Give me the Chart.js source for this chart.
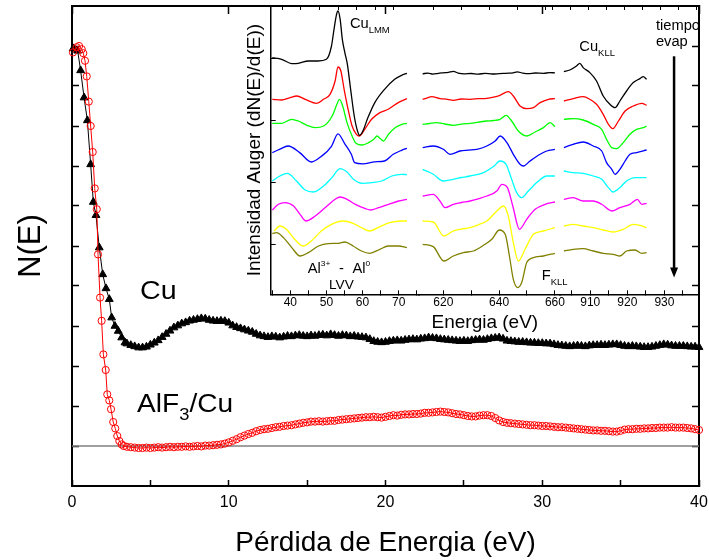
<!DOCTYPE html>
<html><head><meta charset="utf-8">
<script src="https://cdn.jsdelivr.net/npm/chart.js@4/dist/chart.umd.min.js"></script>
<style>
html,body{margin:0;padding:0;background:#fff;}
#wrap{position:relative;width:709px;height:560px;overflow:hidden;background:#fff;}
#main{position:absolute;left:0;top:0;}
#inset{position:absolute;left:230px;top:0;}
</style></head><body>
<div id="wrap"><canvas id="main" width="709" height="560"></canvas><canvas id="inset" width="475" height="334"></canvas></div>
<script>
// ---------------- main chart data (energy loss, eV ; N(E) arb. units) ----------------
const cuEarlyE = [0.08,0.36,0.55,0.77,0.98,1.19,1.36,1.53,1.74,1.96,2.17,2.38,2.53,2.74,2.95,3.17,3.38];
const cuEarlyN = [9.94,9.88,9.39,8.71,8.14,7.04,6.10,5.77,4.96,4.29,3.94,3.67,3.21,3.00,2.875,2.71,2.585];
const alfEarlyE = [0.06,0.30,0.45,0.62,0.72,0.83,0.94,1.07,1.19,1.32,1.45,1.58,1.66,1.79,1.89,2.00,2.15,2.25,2.38,2.49,2.63,2.76,2.89,3.02,3.17,3.30];
const alfEarlyN = [9.84,9.97,10.0,9.92,9.82,9.63,9.24,8.61,8.00,7.35,6.44,5.92,4.79,3.71,3.13,2.29,1.90,1.29,1.14,0.92,0.60,0.44,0.25,0.125,0.04,0.0];
const tailEnergy = [3.5,3.75,4,4.25,4.5,4.75,5,5.25,5.5,5.75,6,6.25,6.5,6.75,7,7.25,7.5,7.75,8,8.25,8.5,8.75,9,9.25,9.5,9.75,10,10.25,10.5,10.75,11,11.25,11.5,11.75,12,12.25,12.5,12.75,13,13.25,13.5,13.75,14,14.25,14.5,14.75,15,15.25,15.5,15.75,16,16.25,16.5,16.75,17,17.25,17.5,17.75,18,18.25,18.5,18.75,19,19.25,19.5,19.75,20,20.25,20.5,20.75,21,21.25,21.5,21.75,22,22.25,22.5,22.75,23,23.25,23.5,23.75,24,24.25,24.5,24.75,25,25.25,25.5,25.75,26,26.25,26.5,26.75,27,27.25,27.5,27.75,28,28.25,28.5,28.75,29,29.25,29.5,29.75,30,30.25,30.5,30.75,31,31.25,31.5,31.75,32,32.25,32.5,32.75,33,33.25,33.5,33.75,34,34.25,34.5,34.75,35,35.25,35.5,35.75,36,36.25,36.5,36.75,37,37.25,37.5,37.75,38,38.25,38.5,38.75,39,39.25,39.5,39.75,40];
const cuTailN = [2.56,2.52,2.49,2.46,2.46,2.48,2.53,2.58,2.64,2.72,
2.80,2.88,2.96,3.01,3.06,3.09,3.13,3.15,3.17,3.19,
3.18,3.15,3.13,3.12,3.13,3.12,3.08,3.01,2.97,2.94,
2.91,2.88,2.85,2.80,2.76,2.74,2.72,2.74,2.73,2.71,
2.73,2.75,2.74,2.76,2.77,2.75,2.74,2.76,2.75,2.77,
2.78,2.76,2.79,2.77,2.75,2.77,2.76,2.74,2.75,2.73,
2.72,2.71,2.67,2.62,2.60,2.59,2.60,2.62,2.63,2.64,
2.63,2.65,2.66,2.67,2.66,2.68,2.69,2.71,2.70,2.69,
2.67,2.66,2.65,2.64,2.63,2.62,2.63,2.62,2.64,2.65,
2.66,2.65,2.67,2.69,2.70,2.71,2.68,2.63,2.62,2.61,
2.60,2.60,2.59,2.58,2.58,2.57,2.57,2.56,2.56,2.54,
2.52,2.51,2.50,2.49,2.50,2.51,2.50,2.49,2.51,2.52,
2.52,2.53,2.52,2.53,2.54,2.54,2.52,2.50,2.49,2.50,
2.49,2.48,2.47,2.47,2.48,2.50,2.52,2.54,2.53,2.51,
2.50,2.50,2.50,2.49,2.48,2.48,2.47];
const alfTailN = [-0.02,-0.03,-0.04,-0.05,-0.05,-0.04,-0.05,-0.04,-0.03,-0.04,
-0.03,-0.02,-0.03,-0.02,-0.02,-0.01,-0.02,-0.01,0.00,-0.01,
0.01,0.01,0.02,0.03,0.04,0.06,0.09,0.13,0.17,0.22,
0.26,0.30,0.33,0.37,0.40,0.42,0.43,0.45,0.47,0.48,
0.50,0.51,0.52,0.54,0.56,0.58,0.59,0.61,0.61,0.62,
0.61,0.62,0.63,0.63,0.65,0.66,0.67,0.68,0.69,0.70,
0.71,0.72,0.72,0.73,0.72,0.71,0.73,0.75,0.77,0.76,
0.78,0.79,0.79,0.80,0.80,0.81,0.83,0.83,0.84,0.85,
0.86,0.85,0.84,0.82,0.80,0.79,0.77,0.75,0.74,0.74,
0.76,0.77,0.77,0.75,0.70,0.64,0.60,0.58,0.57,0.56,
0.55,0.54,0.53,0.52,0.52,0.51,0.50,0.50,0.49,0.48,
0.47,0.47,0.46,0.45,0.44,0.43,0.42,0.41,0.40,0.39,
0.39,0.38,0.38,0.37,0.36,0.36,0.38,0.41,0.42,0.42,
0.43,0.43,0.44,0.44,0.45,0.45,0.46,0.46,0.46,0.47,
0.46,0.46,0.46,0.45,0.44,0.42,0.40];
const baselineE = [0, 40];
const baselineN = [0, 0];
const mainXTicks = [0,5,10,15,20,25,30,35,40];
const mainXLabels = [0,10,20,30,40];
const mainTopTicks = [0,10,20,30,40];
const mainYTicks = [0,1,2,3,4,5,6,7,8,9,10];

// ---------------- inset data: [energy eV, dN/dE (offset, arb.)] ----------------
const lvvBlack = [[35.0,186.7],[37.6,185],[40.4,180.7],[42.2,181],[45.0,183.3],[47.7,183.3],[50.0,185],[51.4,198.3],[52.1,215],[52.8,230],[53.2,233.3],[53.8,225],[54.4,205],[55.1,191.7],[55.8,180],[56.7,155],[57.7,128.3],[58.6,113.3],[59.2,109],[60.1,113.3],[61.5,126.7],[63.4,141.7],[66.1,155],[68.9,165],[70.8,169],[72.3,171]];
const lvvRed = [[35.0,145],[37.6,144.3],[39.9,146.7],[41.8,148.3],[44.1,145],[47.3,141],[49.2,145],[51.0,150],[52.4,163.3],[53.2,177.3],[54.0,173.3],[54.9,155],[56.0,135],[57.1,118.3],[58.3,110],[59.1,108.3],[60.6,115],[62.5,125],[64.8,131.7],[67.1,135],[69.9,141.7],[72.3,145.7]];
const lvvGreen = [[35.0,121],[37.6,121],[40.4,125],[42.2,123.3],[44.6,119],[46.9,116.7],[49.2,118.3],[51.6,128.3],[52.9,140],[53.6,145],[54.5,138.3],[55.7,121.7],[57.1,108.3],[58.2,101],[59.9,99.3],[61.7,101.7],[63.1,105],[64.0,108.3],[64.9,105.7],[65.8,103.3],[67.2,110],[69.1,116.7],[70.9,120],[72.3,121]];
const lvvBlue = [[35.0,91.7],[37.0,95],[39.4,98.3],[42.6,91.7],[45.8,82.3],[48.6,88],[51.4,98],[53.2,110.5],[55.0,101],[56.9,90],[57.8,81.7],[60.1,80.5],[63.4,82.5],[66.1,83.3],[68.5,90],[70.8,94],[72.3,96]];
const lvvCyan = [[35.0,63.3],[37.1,68.3],[39.2,71],[41.7,63.3],[44.1,54.3],[46.4,52.3],[49.2,58.3],[51.5,66.7],[53.8,75.7],[55.7,72.3],[57.5,65],[59.8,61],[62.6,61.7],[65.3,63.3],[68.1,68.3],[70.8,70],[72.3,69.7]];
const lvvMagenta = [[35.0,34.3],[36.7,40],[38.5,41.7],[40.9,38.3],[42.7,30],[44.3,23.3],[46.9,28.3],[49.7,36.7],[52.4,45],[53.8,47.3],[55.7,45],[58.0,40],[60.8,35.7],[62.2,34.3],[64.5,36.7],[67.2,40],[70.0,43.3],[72.3,45]];
const lvvYellow = [[35.5,13.3],[37.1,18.3],[38.9,15],[41.2,5],[43.5,-1.7],[45.8,3.3],[48.6,13.3],[51.4,20],[54.6,23.3],[57.4,21],[59.7,16.7],[62.0,13.3],[64.8,17.7],[67.5,21.7],[70.8,23.3],[72.3,23.3]];
const lvvOlive = [[35.0,10.7],[36.2,11.7],[38.1,6.7],[40.4,-3.3],[42.7,-11.7],[45.0,-8.3],[47.8,-1.7],[50.5,0.7],[53.3,1],[55.1,2.3],[57.4,-1.7],[59.7,-6.7],[62.0,-9],[64.8,-5],[67.1,-1.7],[69.9,-1.7],[72.3,-3.3]];

const fkllBlack = [[612.6,170.5],[614.5,171.2],[616.3,170.2],[618.2,171.0],[620.0,171.5],[621.8,172.0],[623.6,173.0],[625.3,171.2],[627.5,170.4],[630.0,170.8],[632.5,170.2],[635.0,170.9],[637.5,170.3],[640.0,170.6],[642.5,171.0],[645.0,171.4],[646.5,172.5],[648.5,171.2],[650.5,170.6],[653.0,171.3],[656.0,171.0],[658.0,171.6],[660.0,171.5]];
const fkllRed = [[612.6,145],[614.3,146.5],[615.8,147.7],[618.8,145.7],[621.0,145.2],[623.6,144],[626.5,145.3],[629.6,145],[632.5,145.6],[635.6,146],[638.0,147.2],[640.3,149],[643.3,152.7],[645.1,148.3],[647.5,138.3],[649.9,135.7],[652.3,136.7],[654.7,141.7],[657.7,145],[660.0,145.7]];
const fkllGreen = [[612.6,120],[615.0,120.8],[617.6,121.7],[620.5,120.3],[623.6,119],[626.5,120.2],[629.6,121],[632.5,122.1],[635.6,123.3],[638.0,123.8],[640.3,125],[642.5,129],[644.5,123.3],[646.9,113.3],[649.9,108.3],[652.9,112.3],[655.9,116.7],[658.3,121.7],[660.0,117.7]];
const fkllBlue = [[612.6,96.7],[616.4,98.3],[620.0,95],[622.4,90],[626.0,93.3],[629.0,94.2],[632.0,95],[635.6,98.3],[638.6,103.3],[640.4,108.3],[642.8,101.7],[645.1,90],[647.5,80],[648.7,78.3],[651.1,83.3],[654.7,90],[657.1,93.3],[660.0,95]];
const fkllCyan = [[612.6,75],[616.4,70],[620.0,63.3],[623.6,65],[626.5,66.8],[629.6,68.3],[634.4,71.7],[638.0,77.7],[640.3,83.3],[642.5,80],[644.5,65],[646.3,51.7],[648.1,46.7],[650.5,53.3],[653.5,61.7],[657.1,68.3],[660.0,68.3]];
const fkllMagenta = [[612.6,48.3],[616.4,50],[618.8,43.3],[620.6,36.7],[623.6,40],[626.5,41.8],[629.6,43.3],[632.5,45.5],[635.6,48.3],[639.2,53.3],[641.0,60],[643.0,56.7],[644.9,38.3],[647.3,15],[649.9,25],[652.9,35],[656.5,40],[660.0,42.3]];
const fkllYellow = [[612.6,23.3],[616.4,22.3],[620.2,8.3],[623.6,13.3],[626.5,15.2],[629.6,16.7],[632.5,19.5],[635.6,23.3],[639.2,33.3],[641.6,38.3],[643.3,28.3],[645.1,1.7],[646.9,-16.7],[649.3,-5],[652.3,10],[655.9,13.3],[660.0,16.7]];
const fkllOlive = [[612.6,0],[616.4,-2.3],[620.2,-16.7],[623.6,-11.7],[627.2,-8.3],[630.8,-6.7],[634.4,-1],[637.4,5],[640.1,14.3],[642.2,10],[643.7,-11.7],[645.1,-35],[646.7,-43.3],[648.1,-38.3],[649.9,-18.3],[652.3,-13.3],[655.9,-11.7],[660.0,-9]];

const kllBlack = [[902.9,172.7],[904.5,174.3],[906.3,178.3],[907.2,181],[908.1,176.7],[909.9,171.7],[911.7,163.3],[913.5,148.3],[915.3,140],[916.7,136.7],[918.0,143.3],[919.8,153.3],[921.6,161.7],[923.4,165.7],[924.3,167.7],[925.2,165]];
const kllRed = [[902.9,143.3],[905.4,145.7],[908.1,147.7],[909.9,145],[911.7,140],[913.5,130],[914.9,120],[916.1,115.7],[917.6,123.3],[919.4,133.3],[921.6,138.3],[923.9,141],[925.2,139]];
const kllGreen = [[902.9,125],[905.4,125.7],[908.1,124.3],[910.8,120],[913.1,115],[914.4,105],[915.8,96.7],[917.1,95.7],[918.9,101.7],[920.7,110],[922.5,115],[924.3,116.7],[925.2,118.3]];
const kllBlue = [[902.9,96.7],[905.4,100],[908.1,102.3],[910.8,98.3],[913.1,93.3],[914.4,81.7],[915.8,75],[916.7,70],[918.0,75],[919.4,83.3],[920.7,90],[922.5,91.7],[925.2,94.3]];
const kllCyan = [[902.9,73.3],[905.4,71.7],[908.1,71],[910.8,68.3],[913.1,65],[914.9,56.7],[916.1,52.3],[918.0,56.7],[919.8,63.3],[922.1,66.7],[925.2,66.7]];
const kllMagenta = [[902.9,45],[905.4,46.7],[908.1,43.3],[910.8,43.3],[913.1,40],[915.8,33.3],[918.0,36.7],[920.7,40],[922.7,45],[923.9,40],[925.2,41]];
const kllYellow = [[902.9,18.3],[905.4,20],[908.1,18.3],[910.8,16.7],[913.5,14.3],[916.2,12.3],[918.9,15],[921.6,20],[923.4,19],[925.2,16.7]];
const kllOlive = [[902.9,-6.7],[905.4,-5],[908.1,-4.3],[910.8,-6.7],[913.5,-9],[916.2,-10],[918.0,-11.7],[919.8,-6.7],[922.1,-5.7],[923.9,-9],[925.2,-8.3]];

const lvvTicks = [35,40,45,50,55,60,65,70,75];
const lvvLabels = [40,50,60,70];
const fkllTicks = [620,630,640,650,660];
const fkllLabels = [620,640,660];
const kllTicks = [905,910,915,920,925,930,935];
const kllLabels = [910,920,930];
const insetYTicks = [0,62,124,186];
const curveColors = ['#000000','#ff0000','#00ff00','#0000ff','#00ffff','#ff00ff','#ffff00','#808000'];

// ---------------- rendering ----------------
const FONT = "'Liberation Sans', Arial, Helvetica, sans-serif";
Chart.defaults.font.family = FONT;
Chart.defaults.color = '#000';

const zip = (xs, ys) => xs.map((x, i) => ({x: x, y: ys[i]}));
const pairs = arr => arr.map(p => ({x: p[0], y: p[1]}));
const setTicks = list => ax => { ax.ticks = list.map(v => ({value: v})); };
const fixSize = (w, h) => ax => {
  if (w !== null) ax.width = w;
  if (h !== null) ax.height = h;
  ax.paddingLeft = 0; ax.paddingRight = 0; ax.paddingTop = 0; ax.paddingBottom = 0;
};

function drawParts(ctx, parts, x, y, sx) {
  let cx = x;
  ctx.textAlign = 'left';
  ctx.textBaseline = 'alphabetic';
  ctx.fillStyle = '#000';
  for (const p of parts) {
    ctx.font = p.size + 'px ' + FONT;
    ctx.save();
    ctx.translate(cx, y + (p.dy || 0));
    ctx.scale(sx, 1);
    ctx.fillText(p.t, 0, 0);
    ctx.restore();
    cx += ctx.measureText(p.t).width * sx;
  }
}

const mainNotes = [
  {e: 4.34, n: 3.67, sx: 1.1, parts: [{t: 'Cu', size: 26}]},
  {e: 4.15, n: 0.84, sx: 1.08, parts: [{t: 'AlF', size: 26}, {t: '3', size: 17, dy: 7.5}, {t: '/Cu', size: 26}]}
];

const mainLabelPlugin = {
  id: 'mainLabels',
  afterDraw(chart) {
    const ctx = chart.ctx, xs = chart.scales.x, ys = chart.scales.y;
    for (const n of mainNotes) {
      drawParts(ctx, n.parts, xs.getPixelForValue(n.e), ys.getPixelForValue(n.n), n.sx);
    }
  }
};

const axisCommon = (tl, bw) => ({
  grid: {drawOnChartArea: false, tickLength: tl, tickWidth: 1.5, tickColor: '#000'},
  border: {color: '#000', width: bw}
});

new Chart(document.getElementById('main'), {
  type: 'line',
  data: {datasets: [
    {label: 'AlF3/Cu', data: zip(alfEarlyE.concat(tailEnergy), alfEarlyN.concat(alfTailN)),
     borderColor: '#ff0000', borderWidth: 1, pointStyle: 'circle', pointRadius: 3.6, pointBorderWidth: 1,
     pointBorderColor: '#ff0000', pointBackgroundColor: 'rgba(255,255,255,0)', backgroundColor: 'rgba(0,0,0,0)',
     fill: false, order: 1, clip: false},
    {label: 'Cu', data: zip(cuEarlyE.concat(tailEnergy), cuEarlyN.concat(cuTailN)),
     borderColor: '#000', borderWidth: 1, pointStyle: 'triangle', pointRadius: 4.5, pointBorderWidth: 1,
     pointBorderColor: '#000', pointBackgroundColor: '#000', fill: false, order: 2, clip: false},
    {label: 'base', data: zip(baselineE, baselineN), borderColor: '#7f7f7f', borderWidth: 1.5,
     pointRadius: 0, fill: false, order: 3}
  ]},
  options: {
    responsive: false, animation: false, devicePixelRatio: 1,
    layout: {padding: 0},
    plugins: {legend: {display: false}, tooltip: {enabled: false}},
    scales: {
      x: Object.assign({type: 'linear', position: 'bottom', min: 0, max: 40,
        afterBuildTicks: setTicks(mainXTicks), afterFit: fixSize(null, 74),
        ticks: {autoSkip: false, maxRotation: 0, padding: 13.4, font: {size: 16}, color: '#000',
                callback: v => mainXLabels.includes(v) ? String(v) : ''},
        title: {display: true, text: 'Pérdida de Energia (eV)', font: {size: 28}, color: '#000', padding: {top: 0, bottom: 0}}
      }, axisCommon(-6, 2)),
      x2: Object.assign({type: 'linear', position: 'top', min: 0, max: 40,
        afterBuildTicks: setTicks(mainTopTicks), afterFit: fixSize(null, 6),
        ticks: {autoSkip: false, padding: 0, callback: () => ''}
      }, axisCommon(-8, 2)),
      y: Object.assign({type: 'linear', position: 'left', min: -1, max: 11,
        afterBuildTicks: setTicks(mainYTicks), afterFit: fixSize(72, null),
        ticks: {autoSkip: false, padding: 0, callback: () => ''},
        title: {display: true, text: 'N(E)', font: {size: 31}, color: '#000', padding: {top: 12.4, bottom: 0}}
      }, axisCommon(-7, 2)),
      y2: Object.assign({type: 'linear', position: 'right', min: -1, max: 11,
        afterBuildTicks: setTicks(mainYTicks), afterFit: fixSize(10, null),
        ticks: {autoSkip: false, padding: 0, callback: () => ''}
      }, axisCommon(-7, 2))
    }
  },
  plugins: [mainLabelPlugin]
});

// ---------------- inset ----------------
const segments = [
  {id: 'xa', curves: [lvvBlack, lvvRed, lvvGreen, lvvBlue, lvvCyan, lvvMagenta, lvvYellow, lvvOlive]},
  {id: 'xb', curves: [fkllBlack, fkllRed, fkllGreen, fkllBlue, fkllCyan, fkllMagenta, fkllYellow, fkllOlive]},
  {id: 'xc', curves: [kllBlack, kllRed, kllGreen, kllBlue, kllCyan, kllMagenta, kllYellow, kllOlive]}
];
const insetDatasets = [];
segments.forEach(seg => seg.curves.forEach((c, i) => insetDatasets.push({
  data: pairs(c), xAxisID: seg.id, yAxisID: 'y', borderColor: curveColors[i], borderWidth: 1.3,
  pointRadius: 0, fill: false, cubicInterpolationMode: 'monotone', clip: false
})));

const insetAxis = (pos, stack, weight, min, max, ticks, labels) => ({
  type: 'linear', position: pos, stack: stack, stackWeight: weight, min: min, max: max,
  afterBuildTicks: setTicks(ticks),
  afterFit: fixSize(null, pos === 'bottom' ? 16.9 : 6),
  ticks: {autoSkip: false, maxRotation: 0, padding: 5.5, font: {size: 12}, color: '#000',
          callback: v => (pos === 'bottom' && labels.includes(v)) ? String(v) : ''},
  grid: {drawOnChartArea: false, tickLength: -4, tickWidth: 1, tickColor: '#000'},
  border: {color: '#000', width: 1.5}
});

const insetNotes = [
  {axis: 'xa', e: 56.5, v: 216, parts: [{t: 'Cu', size: 14}, {t: 'LMM', size: 9, dy: 4.5}]},
  {axis: 'xc', e: 907.05, v: 193, parts: [{t: 'Cu', size: 14}, {t: 'KLL', size: 9, dy: 4.5}]},
  {axis: 'xc', e: 927.7, v: 214, parts: [{t: 'tiempo', size: 14}]},
  {axis: 'xc', e: 927.7, v: 198, parts: [{t: 'evap', size: 14}]},
  {axis: 'xa', e: 44.8, v: -28.3, parts: [{t: 'Al', size: 14}, {t: '3+', size: 8, dy: -7}]},
  {axis: 'xa', e: 53.5, v: -28.3, parts: [{t: '-', size: 14}]},
  {axis: 'xa', e: 57.2, v: -28.3, parts: [{t: 'Al', size: 14}, {t: '0', size: 8, dy: -7}]},
  {axis: 'xa', e: 50.7, v: -45, parts: [{t: 'LVV', size: 13}]},
  {axis: 'xb', e: 655.3, v: -35.7, parts: [{t: 'F', size: 14}, {t: 'KLL', size: 9, dy: 4.5}]}
];
const insetArrow = {axis: 'xc', e: 932.6, vFrom: 188, vTo: -33.3};

const insetLabelPlugin = {
  id: 'insetLabels',
  afterDraw(chart) {
    const ctx = chart.ctx, ys = chart.scales.y;
    for (const n of insetNotes) {
      drawParts(ctx, n.parts, chart.scales[n.axis].getPixelForValue(n.e), ys.getPixelForValue(n.v), 1.05);
    }
    const ax = chart.scales[insetArrow.axis].getPixelForValue(insetArrow.e);
    const y0 = ys.getPixelForValue(insetArrow.vFrom), y1 = ys.getPixelForValue(insetArrow.vTo);
    ctx.save();
    ctx.strokeStyle = '#000'; ctx.fillStyle = '#000'; ctx.lineWidth = 2.5;
    ctx.beginPath(); ctx.moveTo(ax, y0); ctx.lineTo(ax, y1 - 8); ctx.stroke();
    ctx.beginPath(); ctx.moveTo(ax - 4, y1 - 10); ctx.lineTo(ax + 4, y1 - 10); ctx.lineTo(ax, y1); ctx.closePath(); ctx.fill();
    ctx.restore();
  }
};

new Chart(document.getElementById('inset'), {
  type: 'line',
  data: {datasets: insetDatasets},
  options: {
    responsive: false, animation: false, devicePixelRatio: 1,
    layout: {padding: {left: 0, right: 6, top: 0, bottom: 0}},
    plugins: {
      legend: {display: false}, tooltip: {enabled: false},
      title: {display: true, position: 'bottom', fullSize: false, text: 'Energia (eV)',
              font: {size: 19, weight: 'normal'}, color: '#000', padding: {top: 0, bottom: 0}}
    },
    scales: {
      y: {type: 'linear', position: 'left', min: -50, max: 238.3,
          afterBuildTicks: setTicks(insetYTicks), afterFit: fixSize(40.7, null),
          ticks: {autoSkip: false, padding: 0, callback: () => ''},
          grid: {drawOnChartArea: false, tickLength: -5, tickWidth: 1, tickColor: '#000'},
          border: {color: '#000', width: 1.5},
          title: {display: true, text: 'Intensidad Auger (dN(E)/d(E))', font: {size: 19}, color: '#000', padding: {top: 13.6, bottom: 0}}},
      xa: insetAxis('bottom', 'ib', 148.3, 34.56, 75.64, lvvTicks, lvvLabels),
      xb: insetAxis('bottom', 'ib', 141, 611.29, 661.83, fkllTicks, fkllLabels),
      xc: insetAxis('bottom', 'ib', 139, 901.85, 939.32, kllTicks, kllLabels),
      ta: insetAxis('top', 'it', 148.3, 34.56, 75.64, lvvTicks, lvvLabels),
      tb: insetAxis('top', 'it', 141, 611.29, 661.83, fkllTicks, fkllLabels),
      tc: insetAxis('top', 'it', 139, 901.85, 939.32, kllTicks, kllLabels)
    }
  },
  plugins: [insetLabelPlugin]
});
</script></body></html>
